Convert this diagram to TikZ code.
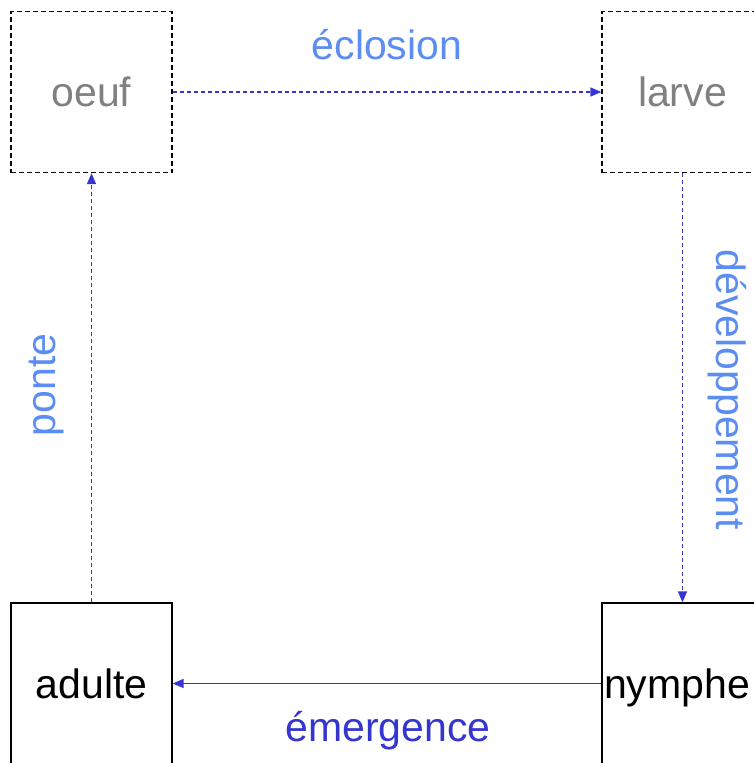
\documentclass[tikz,border=0pt]{standalone}
\usepackage{fontspec}
\setmainfont{Liberation Sans}
\usetikzlibrary{arrows.meta}
\definecolor{cyclelabel}{HTML}{5B8DF2}
\definecolor{cyclearrow}{HTML}{3535D0}
\definecolor{stagegray}{HTML}{808080}

\begin{document}
\begin{tikzpicture}[x=1pt, y=-1pt,
    stagebox/.style={rectangle, draw=black, line width=1.3pt, minimum size=161pt, inner sep=0pt, font=\fontsize{41}{49}\selectfont},
    eggbox/.style={stagebox, dashed, dash pattern=on 5pt off 3pt, text=stagegray},
    link/.style={draw=cyclearrow, line width=1.4pt, -{Triangle[length=11pt,width=9pt]}},
    dashlink/.style={link, dash pattern=on 4pt off 3pt},
    linklabel/.style={text=cyclelabel, font=\fontsize{41}{49}\selectfont, inner sep=0pt}]
\useasboundingbox (0,0) rectangle (754,763);
\clip (0,0) rectangle (754,763);
            % Nodes
            \node[eggbox] (oeuf) at (91.5, 92) {oeuf};
            \node[eggbox] (larve) at (682.5, 92) {larve};
            \node[stagebox] (adulte) at (91.5, 683.5) {adulte};
            \node[stagebox, text width=161pt, align=left, text depth=0pt] (nymphe) at (682.5, 683.5) {\hspace*{2pt}nymphe};
            % Labels
            \node[linklabel] (eclosion) at (387, 45) {éclosion};
            \node[linklabel, rotate=90] (ponte) at (47, 385) {ponte};
            \node[linklabel, rotate=-90] (developpement) at (727, 390) {développement};
            \node[linklabel, text=cyclearrow] (emergence) at (388, 731) {émergence};
            % Edges
            \draw[dashlink] (oeuf.east) -- (larve.west);
            \draw[dashlink] (larve.south) -- (nymphe.north);
            \draw[link] (nymphe.west) -- (adulte.east);
            \draw[dashlink] (adulte.north) -- (oeuf.south);
\end{tikzpicture}
\end{document}
